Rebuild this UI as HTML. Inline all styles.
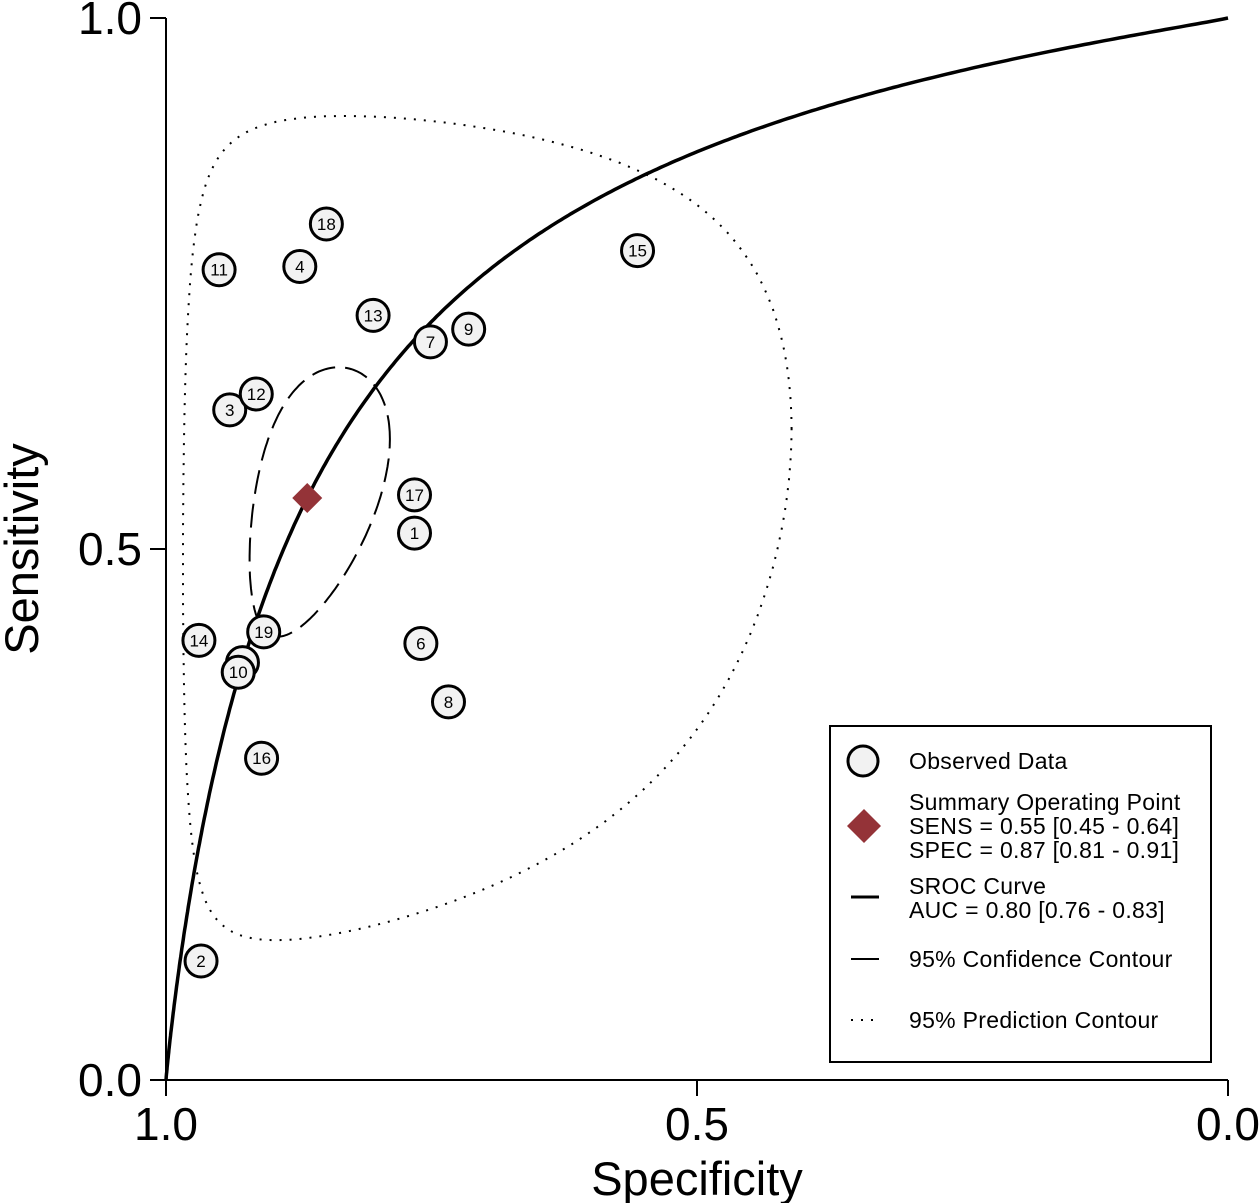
<!DOCTYPE html>
<html><head><meta charset="utf-8"><style>
html,body{margin:0;padding:0;background:#fff}
svg{display:block;font-family:"Liberation Sans",sans-serif}
.lg{font-size:23px;letter-spacing:0.3px}
</style></head><body>
<svg id="chart" width="1260" height="1203" viewBox="0 0 1260 1203" xmlns="http://www.w3.org/2000/svg">
<g id="axes"></g>
<g id="contours"></g>
<g id="curve"></g>
<g id="points"></g>
<g id="legend">
<rect x="830" y="726" width="381" height="336" fill="#fff" stroke="#000" stroke-width="2"/>
<circle cx="863" cy="761" r="15" fill="#f2f2f2" stroke="#000" stroke-width="3"/>
<text class="lg" x="909" y="769">Observed Data</text>
<path d="M864 809 L881 826 L864 843 L847 826 Z" fill="#943338"/>
<text class="lg" x="909" y="810">Summary Operating Point</text>
<text class="lg" x="909" y="834">SENS = 0.55 [0.45 - 0.64]</text>
<text class="lg" x="909" y="858">SPEC = 0.87 [0.81 - 0.91]</text>
<line x1="851" y1="897" x2="879" y2="897" stroke="#000" stroke-width="3"/>
<text class="lg" x="909" y="894">SROC Curve</text>
<text class="lg" x="909" y="918">AUC = 0.80 [0.76 - 0.83]</text>
<line x1="851" y1="959" x2="879" y2="959" stroke="#000" stroke-width="2"/>
<text class="lg" x="909" y="967">95% Confidence Contour</text>
<line x1="851" y1="1020" x2="879" y2="1020" stroke="#000" stroke-width="2" stroke-dasharray="2,8"/>
<text class="lg" x="909" y="1028">95% Prediction Contour</text>
</g>
</svg>
<script>
const studyIds=[1,2,3,4,5,6,7,8,9,10,11,12,13,14,15,16,17,18,19];
const specValues=[0.766,0.967,0.940,0.874,0.928,0.760,0.751,0.734,0.715,0.932,0.950,0.915,0.805,0.969,0.556,0.910,0.766,0.849,0.908];
const sensValues=[0.515,0.112,0.631,0.766,0.393,0.411,0.695,0.356,0.707,0.384,0.763,0.646,0.720,0.414,0.781,0.303,0.551,0.806,0.422];
const summaryPoint=[0.867,0.548];
const srocParams=[1.937,0.930];
const confEllipse=[-1.89,0.19,0.57,0.47,0.23];
const predEllipse=[-1.88,0.20,2.24,2.07,0.26];
const tickValues=[1.0,0.5,0.0];
const tickLabels=["1.0","0.5","0.0"];

const NS="http://www.w3.org/2000/svg";
const X0=166,X1=1228,Y0=1080,Y1=18;
const sx=s=>X0+(1-s)*(X1-X0);
const sy=v=>Y0-v*(Y0-Y1);
const fx=f=>X0+f*(X1-X0);
function mk(tag,attrs,parent){const e=document.createElementNS(NS,tag);for(const k in attrs)e.setAttribute(k,attrs[k]);parent.appendChild(e);return e;}
const inv=l=>1/(1+Math.exp(-l));

const axes=document.getElementById('axes');
let ax=mk('line',{x1:X0,y1:Y1,x2:X0,y2:Y0,stroke:'#000','stroke-width':2},axes);


ax=mk('line',{x1:X0,y1:Y0,x2:X1,y2:Y0,stroke:'#000','stroke-width':2},axes);


tickValues.forEach((v,i)=>{
  let t=mk('line',{x1:X0-16,y1:sy(v),x2:X0,y2:sy(v),stroke:'#000','stroke-width':2},axes);
  
  
  let l=mk('text',{x:X0-24,y:sy(v)+16,'font-size':46,'text-anchor':'end'},axes);l.textContent=tickLabels[i];
  
  
  t=mk('line',{x1:sx(v),y1:Y0,x2:sx(v),y2:Y0+16,stroke:'#000','stroke-width':2},axes);
  
  
  l=mk('text',{x:sx(v),y:Y0+60,'font-size':46,'text-anchor':'middle'},axes);l.textContent=tickLabels[i];
  
  
});
let tt=mk('text',{x:697,y:1195,'font-size':47,'text-anchor':'middle'},axes);tt.textContent='Specificity';


tt=mk('text',{x:0,y:0,'font-size':47,'text-anchor':'middle',transform:'translate(38,549) rotate(-90)'},axes);tt.textContent='Sensitivity';



function ellPath(p){let d='';for(let i=0;i<=200;i++){const t=i/200*2*Math.PI;const lx=p[0]+p[2]*Math.cos(t);const ly=p[1]+p[3]*Math.sin(t)+p[4]*Math.cos(t);d+=(i?'L':'M')+fx(inv(lx)).toFixed(1)+' '+sy(inv(ly)).toFixed(1);}return d+'Z';}
const cg=document.getElementById('contours');
let e=mk('path',{d:ellPath(predEllipse),fill:'none',stroke:'#000','stroke-width':2,'stroke-dasharray':'2,8'},cg);


e=mk('path',{d:ellPath(confEllipse),fill:'none',stroke:'#000','stroke-width':2,'stroke-dasharray':'24,10'},cg);



let d='M'+X0+' '+Y0;
for(let i=1;i<=400;i++){const f=Math.pow(i/400,2);const se=inv(srocParams[0]+srocParams[1]*Math.log(f/(1-f+1e-9)));d+='L'+fx(f).toFixed(1)+' '+sy(i==400?1:se).toFixed(1);}
const cv=mk('path',{d:d,fill:'none',stroke:'#000','stroke-width':3.5},document.getElementById('curve'));



const pg=document.getElementById('points');
studyIds.forEach((id,i)=>{
  const g=mk('g',{},pg);
  
  
  mk('circle',{cx:sx(specValues[i]),cy:sy(sensValues[i]),r:16,fill:'#f2f2f2',stroke:'#000','stroke-width':3},g);
  const t=mk('text',{x:sx(specValues[i]),y:sy(sensValues[i])+6,'font-size':17,'text-anchor':'middle'},g);t.textContent=id;
});
const px=sx(summaryPoint[0]),py=sy(summaryPoint[1]);
const dm=mk('path',{d:`M${px} ${py-15}L${px+15} ${py}L${px} ${py+15}L${px-15} ${py}Z`,fill:'#943338'},pg);


</script>
</body></html>
